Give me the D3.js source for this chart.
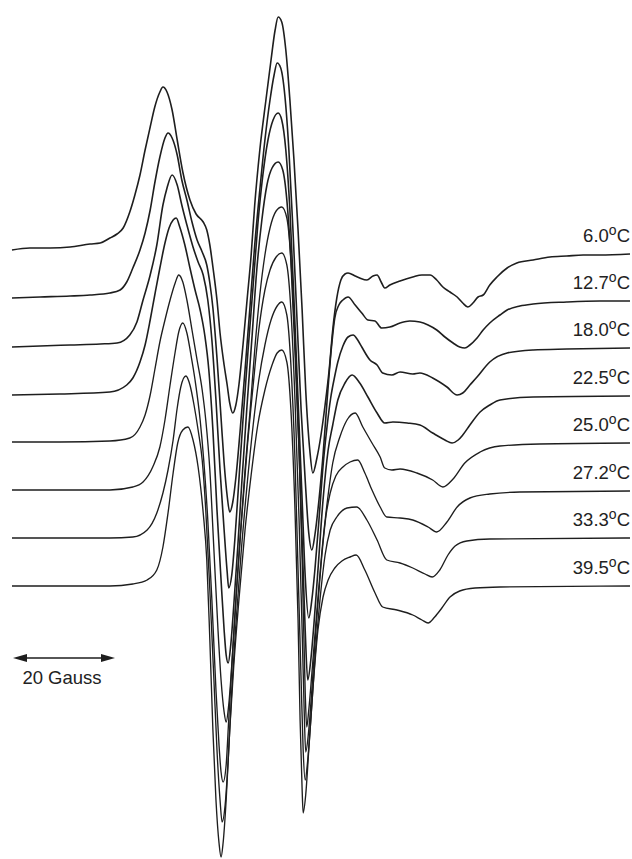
<!DOCTYPE html>
<html>
<head>
<meta charset="utf-8">
<script src="https://cdn.jsdelivr.net/npm/d3@7/dist/d3.min.js"></script>
<style>
  body { margin: 0; background: #ffffff; }
  text { font-family: "Liberation Sans", Arial, Helvetica, sans-serif; fill: #222; }
</style>
</head>
<body>
<svg id="chart" width="632" height="859"></svg>
<script>
// Sample temperatures (°C), one EPR spectrum each, top to bottom
const temperatures = ["6.0", "12.7", "18.0", "22.5", "25.0", "27.2", "33.3", "39.5"];

// First-derivative EPR spectra: [field offset (G), signal (a.u.)]
const spec_06_0 = [[0,0],[3.5,2],[7.5,2],[11.4,3],[15.3,6],[17.3,7],[19.2,12],[20.6,16],[21.8,22],[23.1,38],[24.1,55],[25.1,75],[26.1,100],[27.1,123],[28.0,143],[29.0,158],[29.6,163],[30.4,158],[31.4,140],[32.4,110],[33.5,78],[34.9,50],[36.1,36],[37.5,28],[38.2,20],[38.8,5],[39.4,-17],[40.2,-50],[40.8,-83],[41.6,-115],[42.2,-135],[42.7,-153],[43.3,-163],[43.9,-155],[44.5,-135],[45.3,-95],[46.1,-50],[46.9,-5],[47.6,45],[48.6,100],[49.8,150],[50.8,190],[51.6,220],[52.2,233],[52.9,228],[53.7,200],[54.5,150],[55.3,90],[56.1,20],[56.9,-60],[57.6,-140],[58.4,-200],[59.0,-223],[59.8,-208],[60.6,-185],[61.4,-155],[62.2,-120],[62.9,-80],[63.7,-48],[64.5,-30],[65.3,-24],[65.9,-23],[67.3,-26],[68.2,-28],[69.6,-30],[70.8,-26],[71.6,-25],[72.4,-32],[73.1,-38],[74.1,-35],[76.1,-31],[78.6,-27],[80.4,-25],[82.0,-25],[83.3,-30],[84.5,-37],[85.9,-42],[87.3,-47],[88.4,-53],[89.4,-57],[90.4,-53],[91.4,-47],[92.4,-45],[93.7,-35],[95.1,-27],[97.1,-18],[99.0,-13],[102.2,-10],[105.5,-7],[108.8,-6],[112.0,-5],[115.3,-5],[121.2,-4]];

const spec_12_7 = [[0,0],[5.5,1],[11.4,2],[15.3,3],[19.2,5],[21.2,8],[22.5,16],[23.7,30],[25.1,48],[26.1,65],[27.1,88],[28.0,115],[29.0,141],[30.0,160],[30.6,165],[31.4,160],[32.4,143],[33.3,118],[34.3,98],[35.3,76],[36.3,58],[37.3,46],[38.2,33],[38.8,15],[39.4,-10],[40.2,-60],[41.0,-120],[41.6,-165],[42.2,-198],[42.7,-214],[43.3,-204],[43.9,-180],[44.7,-135],[45.7,-72],[46.7,-7],[47.6,53],[48.6,108],[49.6,158],[50.6,198],[51.4,223],[52.0,235],[52.7,230],[53.5,203],[54.3,148],[55.1,68],[55.9,-22],[56.7,-112],[57.5,-182],[58.2,-235],[58.8,-252],[59.4,-237],[60.2,-202],[61.0,-157],[61.8,-102],[62.6,-52],[63.3,-20],[64.1,-7],[64.9,-2],[65.9,1],[67.3,-7],[68.6,-15],[69.8,-22],[71.2,-23],[72.5,-30],[74.1,-29],[76.1,-25],[78.0,-23],[80.0,-24],[81.6,-27],[83.3,-32],[84.9,-39],[86.5,-45],[87.8,-49],[88.8,-50],[89.8,-47],[91.2,-40],[92.4,-32],[93.7,-25],[95.7,-17],[97.1,-12],[99.6,-8],[102.2,-6],[108.8,-4],[115.3,-3],[121.2,-3]];

const spec_18_0 = [[0,-1],[5.5,0],[11.4,1],[17.3,2],[20.6,3],[23.1,11],[24.5,24],[25.7,46],[27.1,71],[28.4,101],[29.6,141],[30.4,158],[31.4,171],[32.4,161],[33.3,141],[34.3,121],[35.5,99],[36.5,84],[37.5,71],[38.4,46],[39.2,6],[40.0,-54],[40.8,-124],[41.6,-184],[42.2,-226],[42.5,-242],[43.1,-229],[43.7,-194],[44.5,-134],[45.3,-74],[46.3,-4],[47.3,61],[48.2,121],[49.2,171],[50.2,206],[51.2,226],[52.2,233],[52.9,226],[53.7,196],[54.5,136],[55.3,46],[56.1,-54],[56.9,-154],[57.5,-230],[58.2,-272],[58.8,-254],[59.4,-224],[60.2,-174],[61.0,-120],[61.8,-80],[62.5,-52],[63.3,-30],[63.9,-16],[64.9,0],[65.9,9],[66.9,11],[67.8,6],[68.6,-1],[70.2,-14],[71.6,-19],[72.7,-27],[74.5,-29],[76.1,-26],[78.6,-28],[80.0,-27],[82.5,-32],[85.3,-41],[87.3,-49],[88.4,-47],[89.8,-39],[91.2,-31],[93.7,-16],[97.1,-7],[102.2,-4],[108.8,-3],[121.2,-2]];

const spec_22_5 = [[0,-1],[9.4,0],[19.2,2],[22.5,9],[23.7,16],[25.1,32],[26.1,49],[27.1,74],[28.0,99],[29.0,126],[30.0,151],[30.8,166],[31.6,174],[32.2,176],[32.9,167],[33.9,149],[34.9,126],[35.9,104],[36.9,84],[37.8,59],[38.6,24],[39.4,-36],[40.2,-116],[41.0,-186],[41.6,-236],[42.0,-261],[42.4,-269],[42.9,-251],[43.5,-211],[44.3,-151],[45.1,-86],[46.1,-11],[47.1,59],[48.0,124],[49.0,174],[50.0,209],[51.0,226],[52.2,232],[53.1,224],[53.9,194],[54.7,134],[55.5,44],[56.3,-56],[56.9,-146],[57.5,-236],[58.0,-286],[58.6,-266],[59.2,-231],[60.0,-176],[61.0,-106],[62.0,-56],[62.9,-31],[63.9,-6],[65.3,11],[66.7,19],[68.2,11],[69.8,-3],[71.6,-19],[73.1,-29],[74.7,-28],[77.5,-29],[80.0,-31],[82.5,-39],[84.9,-46],[86.3,-49],[87.5,-46],[88.4,-41],[89.8,-31],[91.8,-18],[93.7,-11],[95.7,-6],[102.2,-3],[121.2,-2]];

const spec_25_0 = [[0,0],[9.4,0],[19.2,1],[23.1,4],[25.1,15],[26.1,27],[27.1,47],[28.0,72],[29.0,100],[30.0,122],[31.0,142],[32.0,159],[32.7,167],[33.5,160],[34.3,142],[35.3,112],[36.3,82],[37.3,52],[38.0,22],[38.8,-28],[39.6,-108],[40.4,-188],[41.0,-238],[41.6,-270],[42.0,-280],[42.5,-263],[43.1,-223],[43.9,-158],[44.7,-98],[45.7,-28],[46.7,32],[47.6,92],[48.6,147],[49.6,187],[50.6,214],[51.8,231],[52.9,235],[53.9,224],[54.7,182],[55.5,102],[56.3,-8],[56.9,-118],[57.5,-250],[57.8,-285],[58.2,-268],[58.8,-232],[59.8,-168],[60.8,-108],[62.0,-53],[62.9,-21],[64.3,5],[65.7,22],[67.3,29],[68.8,15],[70.6,-1],[72.2,-15],[73.1,-26],[74.5,-28],[76.1,-27],[79.4,-31],[82.5,-38],[84.5,-45],[86.5,-37],[88.8,-21],[91.8,-10],[95.7,-4],[103.5,-2],[121.2,-1]];

const spec_27_2 = [[0,0],[19.2,0],[23.7,3],[25.7,8],[27.6,23],[29.0,43],[30.0,70],[31.0,105],[32.0,138],[32.7,158],[33.5,167],[34.3,157],[35.1,135],[35.9,110],[36.9,70],[37.6,30],[38.4,-30],[39.2,-110],[40.0,-200],[40.6,-255],[41.0,-282],[41.4,-292],[42.0,-275],[42.5,-230],[43.3,-160],[44.1,-95],[45.1,-25],[46.1,40],[47.3,105],[48.4,160],[49.6,200],[50.6,220],[51.8,233],[52.9,237],[53.9,225],[54.7,180],[55.5,90],[56.3,-30],[56.9,-140],[57.3,-220],[57.6,-262],[58.2,-240],[58.8,-200],[59.6,-140],[60.6,-75],[61.6,-25],[62.4,-3],[63.5,14],[64.9,23],[66.3,28],[67.8,30],[69.2,17],[70.6,0],[72.2,-17],[73.5,-27],[76.1,-28],[78.6,-30],[81.6,-37],[83.3,-42],[85.3,-32],[87.3,-17],[89.8,-8],[93.7,-4],[99.6,-2],[121.2,-1]];

const spec_33_3 = [[0,0],[19.2,0],[23.7,1],[26.5,8],[28.4,25],[29.6,45],[30.6,68],[31.6,98],[32.4,130],[33.1,151],[34.1,162],[34.9,153],[35.7,133],[36.5,108],[37.3,78],[38.0,28],[38.8,-52],[39.6,-142],[40.2,-212],[40.8,-262],[41.2,-284],[41.8,-267],[42.4,-222],[43.1,-152],[43.9,-87],[44.9,-17],[46.1,53],[47.3,113],[48.4,158],[49.6,193],[50.8,218],[52.0,232],[52.9,236],[53.9,223],[54.7,173],[55.5,78],[56.1,-32],[56.7,-142],[57.1,-212],[57.5,-242],[58.0,-222],[58.6,-182],[59.4,-122],[60.4,-62],[61.4,-17],[62.4,8],[63.7,21],[65.7,30],[67.6,31],[69.6,18],[71.6,-2],[73.5,-22],[76.1,-25],[78.6,-30],[81.0,-36],[82.4,-39],[83.9,-32],[85.5,-17],[86.9,-8],[89.2,-3],[93.7,-1],[121.2,0]];

const spec_39_5 = [[0,0],[19.2,0],[23.7,2],[26.5,6],[28.4,16],[29.6,39],[30.6,73],[31.6,113],[32.5,143],[33.5,156],[34.5,159],[35.5,146],[36.5,119],[37.5,73],[38.2,26],[38.8,-54],[39.4,-144],[40.0,-214],[40.6,-257],[41.0,-271],[41.4,-257],[42.0,-214],[42.7,-144],[43.5,-79],[44.5,-14],[45.7,56],[46.9,111],[48.2,161],[49.6,196],[51.0,221],[52.0,233],[52.9,236],[53.9,224],[54.7,176],[55.5,76],[56.1,-34],[56.5,-134],[56.9,-204],[57.1,-227],[57.6,-209],[58.2,-164],[59.0,-104],[60.0,-44],[61.0,-11],[62.0,6],[63.3,18],[64.7,25],[66.3,29],[67.5,31],[69.2,16],[71.2,-7],[72.7,-21],[75.5,-24],[78.6,-29],[80.4,-34],[81.6,-37],[82.9,-31],[84.3,-22],[85.9,-11],[87.8,-5],[90.8,-2],[95.7,-1],[121.2,0]];

const spectra = [spec_06_0, spec_12_7, spec_18_0, spec_22_5, spec_25_0, spec_27_2, spec_33_3, spec_39_5];

// Length of the field scale bar, in gauss
const scaleBarGauss = 20;

const svg = d3.select("#chart");

// Field axis: 20 G spans ~102 px; signal axis: 1 a.u. per px
const x = d3.scaleLinear().domain([0, 121.2]).range([12, 630]);
const y = d3.scaleLinear().domain([250, -609]).range([0, 859]);
const STACK = 48; // vertical offset between successive spectra (a.u.)

const line = d3.line()
  .x(d => x(d[0]))
  .y(d => y(d[1]))
  .curve(d3.curveMonotoneX);

const traces = svg.append("g").attr("class", "spectra");

spectra.forEach((spec, i) => {
  const shifted = spec.map(([g, a]) => [g, a - i * STACK]);
  traces.append("path")
    .datum(shifted)
    .attr("d", line)
    .attr("fill", "none")
    .attr("stroke", "#1e1e1e")
    .attr("stroke-width", i < 4 ? 1.6 : 1.35)
    .attr("stroke-linejoin", "round");

  // Temperature label above the right-hand end of each trace
  const last = shifted[shifted.length - 1];
  const t = svg.append("text")
    .attr("x", x(last[0]))
    .attr("y", y(last[1]) - 12)
    .attr("text-anchor", "end")
    .attr("font-size", 18.5);
  t.append("tspan").text(temperatures[i]);
  t.append("tspan").attr("font-size", 14).attr("dy", -7).text("o");
  t.append("tspan").attr("dy", 7).text("C");
});

// Field scale bar with arrowheads at both ends
const barY = 658;
const bx0 = x(0.2), bx1 = x(0.2 + scaleBarGauss);
const bar = svg.append("g").attr("class", "scale-bar");
bar.append("line")
  .attr("x1", bx0 + 6).attr("x2", bx1 - 6)
  .attr("y1", barY).attr("y2", barY)
  .attr("stroke", "#1e1e1e").attr("stroke-width", 1.6);
bar.append("path")
  .attr("d", `M${bx0},${barY} L${bx0 + 14},${barY - 4} L${bx0 + 14},${barY + 4} Z`)
  .attr("fill", "#1e1e1e");
bar.append("path")
  .attr("d", `M${bx1},${barY} L${bx1 - 14},${barY - 4} L${bx1 - 14},${barY + 4} Z`)
  .attr("fill", "#1e1e1e");
bar.append("text")
  .attr("x", (bx0 + bx1) / 2 - 2)
  .attr("y", 684)
  .attr("text-anchor", "middle")
  .attr("font-size", 18.5)
  .text(`${scaleBarGauss} Gauss`);
</script>
</body>
</html>
